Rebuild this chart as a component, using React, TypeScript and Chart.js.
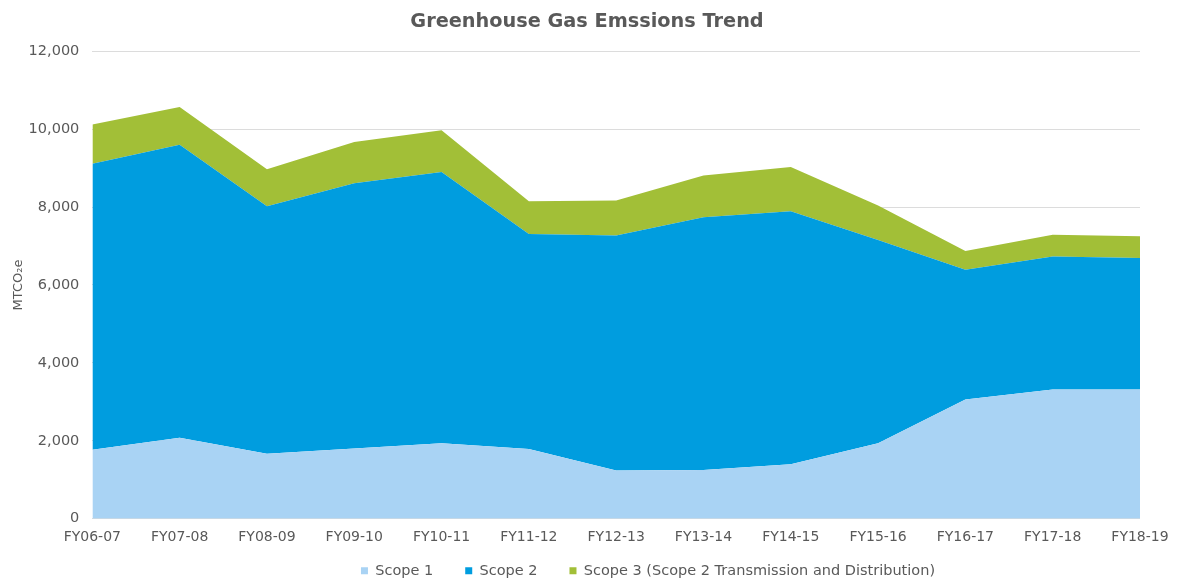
import React, { useEffect, useRef } from "react";
import { Chart, registerables } from "chart.js";

Chart.register(...registerables);

// Fiscal years along the x axis
const years = [
  "FY06-07", "FY07-08", "FY08-09", "FY09-10", "FY10-11", "FY11-12", "FY12-13",
  "FY13-14", "FY14-15", "FY15-16", "FY16-17", "FY17-18", "FY18-19",
];

// Emissions per scope, MTCO2e (stacked)
const scope1 = [1770, 2080, 1670, 1800, 1935, 1790, 1235, 1250, 1400, 1935, 3060, 3315, 3315];
const scope2 = [7340, 7520, 6350, 6810, 6965, 5520, 6035, 6490, 6490, 5215, 3330, 3415, 3375];
const scope3 = [1010, 970, 950, 1060, 1070, 840, 900, 1070, 1140, 890, 480, 560, 560];

const seriesNames = ["Scope 1", "Scope 2", "Scope 3 (Scope 2 Transmission and Distribution)"];
const seriesColors = ["#a9d3f4", "#009ddf", "#a2bf37"];

const FONT = "'DejaVu Sans', Verdana, sans-serif";
const TEXT = "#595959";

// Legend row: wide gaps between items, but a tight band under the axis labels
const LEGEND_GAP = 32;
const LEGEND_TRIM = 24;
const LEGEND_LIFT = 16;
const LEGEND_SHIFT = 78;
const TITLE_SHIFT = 17;

const boxPlacement = {
  id: "boxPlacement",
  beforeLayout(chart: any) {
    const lg = chart.legend;
    if (lg && !lg.__trimmed) {
      const fit = lg.fit;
      lg.fit = function () {
        fit.call(this);
        this.height -= LEGEND_TRIM;
      };
      lg.__trimmed = true;
    }
  },
  afterLayout(chart: any) {
    const lg = chart.legend;
    if (lg) {
      lg.left += LEGEND_SHIFT;
      lg.right += LEGEND_SHIFT;
      lg.top -= LEGEND_LIFT;
      lg.bottom = chart.height + 20;
    }
    const tb = chart.titleBlock;
    if (tb) {
      tb.left += TITLE_SHIFT;
      tb.right += TITLE_SHIFT;
    }
  },
};

export default function App() {
  const canvasRef = useRef<HTMLCanvasElement | null>(null);

  useEffect(() => {
    document.body.style.margin = "0";
    const ctx = canvasRef.current;
    if (!ctx) return;
    const values = [scope1, scope2, scope3];
    const chart = new Chart(ctx, {
      type: "line",
      data: {
        labels: years,
        datasets: values.map((v, i) => ({
          label: seriesNames[i],
          data: v,
          backgroundColor: seriesColors[i],
          borderColor: seriesColors[i],
          borderWidth: 0,
          pointRadius: 0,
          pointHoverRadius: 0,
          tension: 0,
          fill: i === 0 ? "origin" : "-1",
        })),
      },
      options: {
        animation: false,
        responsive: false,
        maintainAspectRatio: false,
        layout: { padding: { left: 0, right: 41, top: 6, bottom: 0 } },
        plugins: {
          title: {
            display: true,
            text: "Greenhouse Gas Emssions Trend",
            color: TEXT,
            font: { family: FONT, size: 19.3, weight: "bold" },
            padding: { top: 4, bottom: 18 },
          },
          legend: {
            position: "bottom",
            labels: {
              color: TEXT,
              font: { family: FONT, size: 14.5 },
              boxWidth: 7,
              boxHeight: 7,
              padding: LEGEND_GAP,
            },
          },
          tooltip: { enabled: false },
        },
        scales: {
          x: {
            offset: false,
            grid: { display: false },
            border: { display: false },
            ticks: {
              color: TEXT,
              font: { family: FONT, size: 14 },
              maxRotation: 0,
              autoSkip: false,
              padding: 2,
            },
          },
          y: {
            stacked: true,
            min: 0,
            max: 12000,
            grid: { color: "#dcdcdc", drawTicks: false, lineWidth: 1 },
            border: { display: false },
            ticks: {
              stepSize: 2000,
              color: TEXT,
              font: { family: FONT, size: 14.5 },
              padding: 13,
              callback: (v: any) => Number(v).toLocaleString("en-US"),
            },
            title: {
              display: true,
              text: "MTCO₂e",
              color: TEXT,
              font: { family: FONT, size: 13 },
              padding: { top: 11, bottom: -11 },
            },
          },
        },
      },
      plugins: [boxPlacement],
    });
    return () => chart.destroy();
  }, []);

  return (
    <div style={{ width: 1181, height: 580, background: "#fff" }}>
      <canvas ref={canvasRef} width={1181} height={580} />
    </div>
  );
}
